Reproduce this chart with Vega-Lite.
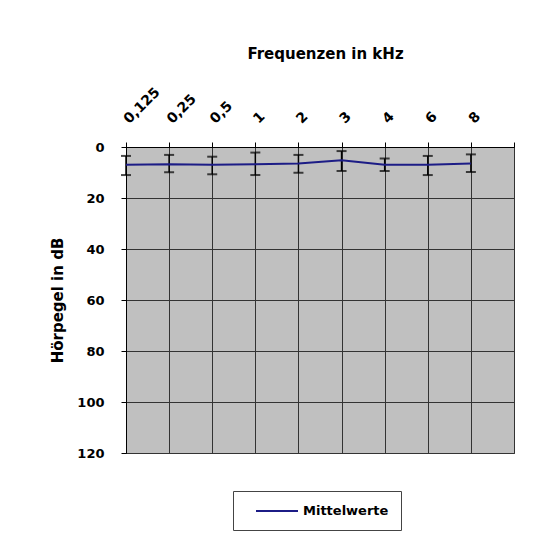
{
  "$schema": "https://vega.github.io/schema/vega-lite/v6.json",
  "width": 388,
  "height": 306,
  "autosize": {"type": "none"},
  "padding": {"left": 126, "top": 147, "right": 26, "bottom": 88},
  "background": "white",
  "config": {
    "font": "DejaVu Sans",
    "view": {"fill": "#c0c0c0", "stroke": "#444", "strokeWidth": 1},
    "axis": {
      "domainColor": "black",
      "domainWidth": 1,
      "tickColor": "black",
      "tickSize": 5,
      "tickWidth": 1,
      "gridColor": "#333",
      "gridWidth": 1,
      "gridOpacity": 1,
      "labelColor": "black",
      "labelFont": "DejaVu Sans",
      "labelFontSize": 13,
      "labelFontWeight": "bold",
      "titleColor": "black",
      "titleFont": "DejaVu Sans",
      "titleFontSize": 15,
      "titleFontWeight": "bold"
    },
    "legend": {
      "labelFont": "DejaVu Sans",
      "labelFontSize": 13,
      "labelFontWeight": "bold",
      "labelColor": "black"
    }
  },
  "data": {
    "values": [
      {"freq": "0,125", "mean": 7.0, "lo": 3.5, "hi": 11.0, "series": "Mittelwerte"},
      {"freq": "0,25", "mean": 6.8, "lo": 3.1, "hi": 9.9, "series": "Mittelwerte"},
      {"freq": "0,5", "mean": 7.0, "lo": 3.8, "hi": 10.7, "series": "Mittelwerte"},
      {"freq": "1", "mean": 6.8, "lo": 2.2, "hi": 11.0, "series": "Mittelwerte"},
      {"freq": "2", "mean": 6.5, "lo": 3.1, "hi": 10.1, "series": "Mittelwerte"},
      {"freq": "3", "mean": 5.2, "lo": 1.6, "hi": 9.4, "series": "Mittelwerte"},
      {"freq": "4", "mean": 7.0, "lo": 4.5, "hi": 9.4, "series": "Mittelwerte"},
      {"freq": "6", "mean": 7.0, "lo": 3.5, "hi": 11.0, "series": "Mittelwerte"},
      {"freq": "8", "mean": 6.5, "lo": 2.9, "hi": 9.8, "series": "Mittelwerte"}
    ]
  },
  "encoding": {
    "x": {
      "field": "freq",
      "type": "ordinal",
      "scale": {"type": "point", "domain": ["0,125", "0,25", "0,5", "1", "2", "3", "4", "6", "8", ""], "padding": 0},
      "axis": {
        "orient": "top",
        "title": "Frequenzen in kHz",
        "labelAngle": -45,
        "labelFontSize": 14,
        "labelBaseline": "middle",
        "labelPadding": 21,
        "grid": true,
        "titleX": 199,
        "titleY": -89,
        "titleBaseline": "alphabetic",
        "titleAlign": "center"
      }
    }
  },
  "layer": [
    {
      "mark": {"type": "rule", "color": "black", "strokeWidth": 1.5},
      "encoding": {
        "y": {
          "field": "lo", "type": "quantitative",
          "scale": {"domain": [0, 120], "reverse": true, "nice": false, "zero": false},
          "axis": {"orient": "left", "title": "Hörpegel in dB", "values": [0, 20, 40, 60, 80, 100, 120], "grid": true, "labelPadding": 17, "titleX": -69, "titleY": 153, "titleBaseline": "middle", "titleAlign": "center", "titleAngle": -90}
        },
        "y2": {"field": "hi"}
      }
    },
    {
      "mark": {"type": "tick", "color": "black", "size": 10, "thickness": 2, "orient": "horizontal"},
      "encoding": {
        "y": {
          "field": "lo", "type": "quantitative",
          "scale": {"domain": [0, 120], "reverse": true, "nice": false, "zero": false},
          "axis": {"orient": "left", "title": "Hörpegel in dB", "values": [0, 20, 40, 60, 80, 100, 120], "grid": true, "labelPadding": 17, "titleX": -69, "titleY": 153, "titleBaseline": "middle", "titleAlign": "center", "titleAngle": -90}
        }
      }
    },
    {
      "mark": {"type": "tick", "color": "black", "size": 10, "thickness": 2, "orient": "horizontal"},
      "encoding": {
        "y": {
          "field": "hi", "type": "quantitative",
          "scale": {"domain": [0, 120], "reverse": true, "nice": false, "zero": false},
          "axis": {"orient": "left", "title": "Hörpegel in dB", "values": [0, 20, 40, 60, 80, 100, 120], "grid": true, "labelPadding": 17, "titleX": -69, "titleY": 153, "titleBaseline": "middle", "titleAlign": "center", "titleAngle": -90}
        }
      }
    },
    {
      "mark": {"type": "line", "strokeWidth": 2},
      "encoding": {
        "y": {
          "field": "mean", "type": "quantitative",
          "scale": {"domain": [0, 120], "reverse": true, "nice": false, "zero": false},
          "axis": {"orient": "left", "title": "Hörpegel in dB", "values": [0, 20, 40, 60, 80, 100, 120], "grid": true, "labelPadding": 17, "titleX": -69, "titleY": 153, "titleBaseline": "middle", "titleAlign": "center", "titleAngle": -90}
        },
        "color": {
          "field": "series",
          "type": "nominal",
          "scale": {"range": ["#1c1c86"]},
          "legend": {
            "title": null,
            "orient": "none",
            "legendX": 107,
            "legendY": 344,
            "direction": "horizontal",
            "strokeColor": "#444",
            "fillColor": "white",
            "padding": 12,
            "symbolOffset": 24,
            "symbolType": "M-3,0H3",
            "symbolSize": 196,
            "symbolStrokeWidth": 2,
            "labelOffset": 18
          }
        }
      }
    }
  ]
}
